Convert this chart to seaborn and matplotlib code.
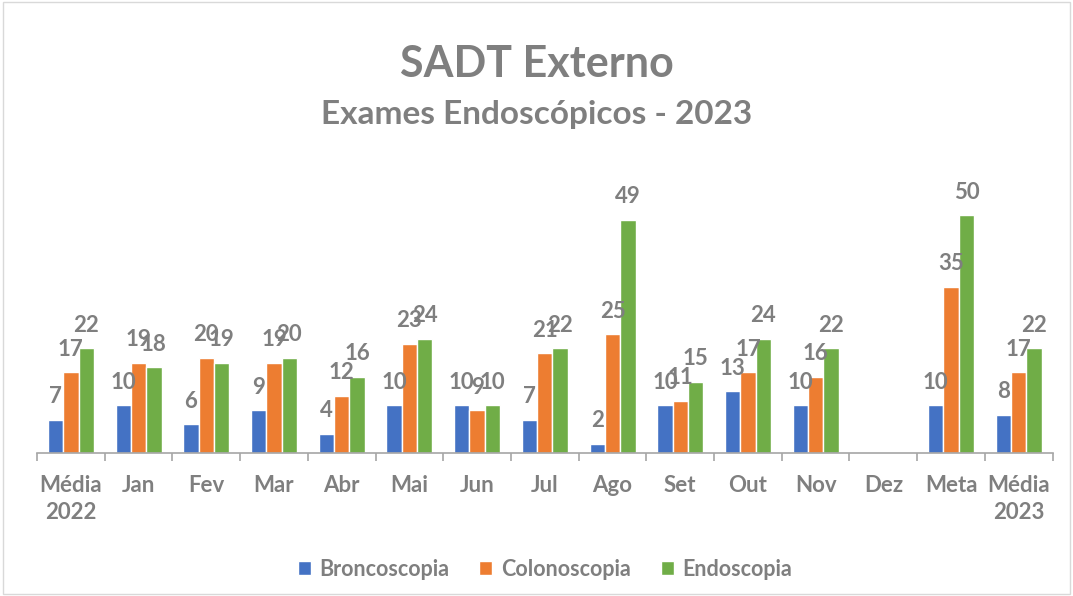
import matplotlib
matplotlib.use("Agg")
import matplotlib.pyplot as plt
import matplotlib.patches as mpatches
import seaborn as sns
import pandas as pd
import numpy as np

categories = ["Média\n2022", "Jan", "Fev", "Mar", "Abr", "Mai", "Jun", "Jul",
              "Ago", "Set", "Out", "Nov", "Dez", "Meta", "Média\n2023"]
broncoscopia = [7, 10, 6, 9, 4, 10, 10, 7, 2, 10, 13, 10, np.nan, 10, 8]
colonoscopia = [17, 19, 20, 19, 12, 23, 9, 21, 25, 11, 17, 16, np.nan, 35, 17]
endoscopia = [22, 18, 19, 20, 16, 24, 10, 22, 49, 15, 24, 22, np.nan, 50, 22]
series_names = ["Broncoscopia", "Colonoscopia", "Endoscopia"]
colors = ["#4472C4", "#ED7D31", "#70AD47"]

rows = []
for name, vals in zip(series_names, [broncoscopia, colonoscopia, endoscopia]):
    for c, v in zip(categories, vals):
        rows.append({"Mês": c, "Exame": name, "Valor": v})
df = pd.DataFrame(rows)

sns.set_theme(style="white")
plt.rcParams['font.family'] = ['Lato', 'DejaVu Sans']
gray = "#7F7F7F"

fig = plt.figure(figsize=(10.73, 5.96), dpi=100)
ax = fig.add_axes([0.0345, 0.2399, 0.9465, 0.4749])

sns.barplot(data=df, x="Mês", y="Valor", hue="Exame", order=categories,
            hue_order=series_names, palette=colors, width=0.68, gap=0,
            ax=ax, errorbar=None, saturation=1, legend=True)

for cont in ax.containers:
    ax.bar_label(cont, fmt="%g", padding=9, color=gray, fontsize=16,
                 fontweight="bold")

ax.set_ylim(0, 59.5)
ax.set_xlim(-0.5, len(categories) - 0.5)
ax.set_xlabel("")
ax.set_ylabel("")
ax.set_yticks([])
for s in ["top", "right", "left"]:
    ax.spines[s].set_visible(False)
ax.spines["bottom"].set_color("#A6A6A6")
ax.spines["bottom"].set_linewidth(1.2)
ax.set_xticks(np.arange(len(categories)))
ax.set_xticklabels(categories, color=gray, fontsize=16, fontweight="bold",
                   linespacing=1.35)
ax.set_xticks(np.arange(len(categories) + 1) - 0.5, minor=True)
ax.tick_params(axis="x", which="major", length=0, pad=16)
ax.tick_params(axis="x", which="minor", length=6, color="#A6A6A6", width=1.2,
               direction="out", bottom=True)

leg = ax.legend(loc="upper center", bbox_to_anchor=(0.5, -0.305), ncol=3,
                frameon=False, fontsize=15.5, handlelength=0.6, handleheight=0.6,
                columnspacing=1.4, handletextpad=0.4)
for t in leg.get_texts():
    t.set_color(gray)
    t.set_fontweight("bold")

fig.text(0.5, 0.893, "SADT Externo", ha="center", va="center", color=gray,
         fontsize=31, fontweight="bold")
fig.text(0.5, 0.808, "Exames Endoscópicos - 2023", ha="center", va="center",
         color=gray, fontsize=24, fontweight="bold")

fig.patches.append(mpatches.Rectangle((0.003, 0.003), 0.994, 0.994,
                                      transform=fig.transFigure, fill=False,
                                      edgecolor="#D9D9D9", linewidth=1))

fig.savefig("out.png", dpi=100)
